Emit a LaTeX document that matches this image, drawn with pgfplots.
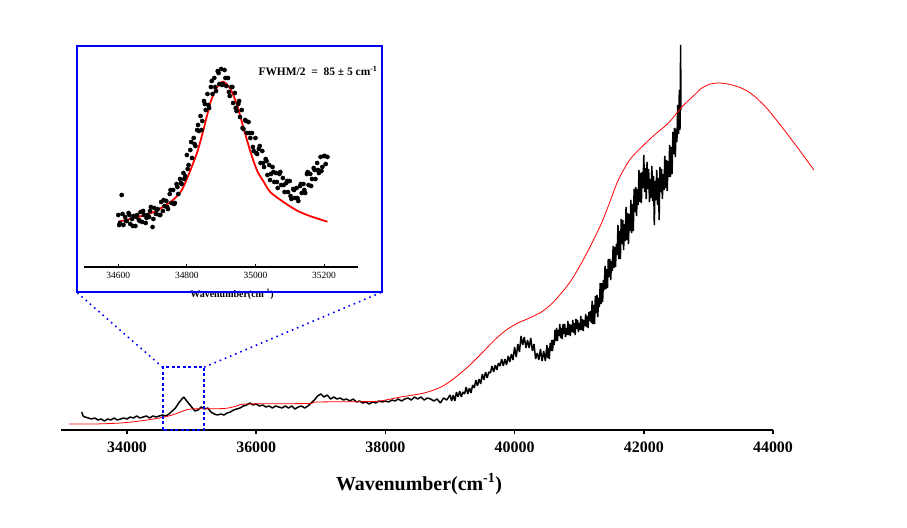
\documentclass[border=0pt]{standalone}
\usepackage{fontspec}
\setmainfont{Liberation Serif}
\usepackage{pgfplots}
\pgfplotsset{compat=1.18}
\begin{document}
\begin{tikzpicture}
\path[use as bounding box] (0bp,0bp) rectangle (907bp,528bp);
% ---------------- main axis ----------------
\begin{axis}[at={(60.8bp,98bp)}, anchor=south west, scale only axis,
  width=712.2bp, height=400bp,
  xmin=32975, xmax=44000, ymin=0, ymax=400,
  axis x line=bottom, axis y line=none, clip=false,
  x axis line style={line width=2.5bp,-},
  xtick={34000,36000,38000,40000,42000,44000},
  scaled ticks=false,
  tick align=outside, major tick length=4bp,
  tick style={line width=1.5bp,black},
  xticklabel style={font=\bfseries\fontsize{16}{18}\selectfont, yshift=-4bp},
  /pgf/number format/assume math mode=true,
  /pgf/number format/set thousands separator={},
]
\addplot[black, line width=1.5pt, line join=bevel] coordinates {
(33300,18) (33320,14) (33350,13) (33400,12) (33450,11) (33500,12) (33550,10) (33600,11)
(33650,9) (33700,11) (33750,10) (33800,12) (33850,10) (33900,11) (33950,12) (34000,11)
(34050,13) (34100,12) (34150,14) (34200,12) (34250,13) (34300,14) (34350,12) (34400,14)
(34450,13) (34500,14) (34550,15) (34600,14) (34650,16) (34700,19) (34750,22) (34800,27)
(34850,31) (34880,33) (34900,31) (34950,27) (35000,23) (35050,19) (35100,20) (35150,23)
(35200,21) (35250,22) (35300,18) (35350,16) (35400,15) (35450,16) (35500,15) (35550,17)
(35600,18) (35650,20) (35700,21) (35750,22) (35800,24) (35850,25) (35900,27) (35950,25)
(36000,26) (36050,24) (36100,25) (36150,23) (36200,24) (36250,22) (36300,24) (36350,23)
(36400,22) (36450,24) (36500,22) (36550,24) (36600,21) (36650,23) (36700,24) (36750,22)
(36800,24) (36850,27) (36900,30) (36950,34) (37000,36) (37050,33) (37100,35) (37150,31)
(37200,33) (37250,31) (37300,32) (37350,30) (37400,31) (37450,29) (37500,31) (37550,28)
(37600,29) (37650,27) (37700,28) (37750,26) (37800,28) (37850,27) (37900,29) (37950,28)
(38000,29) (38050,28) (38100,30) (38150,29) (38200,31) (38250,29) (38300,31) (38350,32)
(38400,30) (38450,33) (38500,31) (38550,33) (38600,30) (38650,32) (38700,31) (38750,29)
(38800,31) (38850,27) (38900,32) (38950,30)
(39000,35) (39025,29) (39050,35) (39075,29) (39100,38) (39125,33) (39150,39) (39175,33)
(39200,38) (39225,36) (39250,43) (39275,36) (39300,42) (39325,37) (39350,45) (39375,42)
(39400,50) (39425,44) (39450,51) (39475,46) (39500,56) (39525,50) (39550,58) (39575,52)
(39600,58) (39625,57) (39650,64) (39675,58) (39700,65) (39725,60) (39750,67) (39775,64)
(39800,71) (39825,64) (39850,71) (39875,65) (39900,74) (39925,68) (39950,76) (39975,70)
(40000,83) (40025,73) (40050,86) (40075,78) (40100,94) (40125,85) (40150,93) (40175,82)
(40200,90) (40225,82) (40250,92) (40275,79) (40300,86) (40325,71) (40350,77) (40375,70)
(40400,81) (40425,69) (40450,79) (40475,69)
(40500,85) (40512.5,72) (40525,82) (40537.5,71) (40550,87) (40562.5,79) (40575,90) (40587.5,79)
(40600,90) (40612.5,85) (40625,100) (40637.5,89) (40650,102) (40662.5,89) (40675,100) (40687.5,94)
(40700,106) (40712.5,92) (40725,102) (40737.5,91) (40750,106) (40762.5,96) (40775,106) (40787.5,93)
(40800,102) (40812.5,95) (40825,109) (40837.5,95) (40850,106) (40862.5,94) (40875,105) (40887.5,98)
(40900,110) (40912.5,97) (40925,107) (40937.5,95) (40950,111) (40962.5,101) (40975,110) (40987.5,98)
(41000,107) (41012.5,100) (41025,114) (41037.5,100) (41050,111) (41062.5,99) (41075,110) (41087.5,104)
(41100,116) (41112.5,103) (41125,114) (41137.5,102) (41150,118) (41162.5,109) (41175,119) (41187.5,107)
(41200,129) (41212.5,106) (41225,125) (41237.5,106) (41250,134) (41262.5,117) (41275,135) (41287.5,113)
(41300,132) (41312.5,123) (41325,147) (41337.5,126) (41350,147) (41362.5,128) (41375,150) (41387.5,140)
(41400,164) (41412.5,141) (41425,161) (41437.5,142) (41450,171) (41462.5,153) (41475,171) (41487.5,150)
(41500,169) (41512.5,159) (41525,184) (41537.5,162) (41550,183) (41562.5,163) (41575,186) (41587.5,175)
(41600,205) (41612.5,171) (41625,199) (41637.5,171) (41650,211) (41662.5,186) (41675,210) (41687.5,180)
(41700,206) (41712.5,189) (41725,223) (41737.5,190) (41750,217) (41762.5,186) (41775,216) (41787.5,199)
(41800,230) (41812.5,197) (41825,226) (41837.5,199) (41850,241) (41862.5,218) (41875,243) (41887.5,214)
(41900,241) (41912.5,225) (41925,260) (41937.5,228) (41950,257) (41962.5,227) (41975,258) (41987.5,242)
(42000,275) (42012.5,238) (42025,262) (42037.5,231) (42050,268) (42062.5,241) (42075,261) (42087.5,228)
(42100,251) (42112.5,232) (42125,264) (42137.5,229) (42150,254) (42162.5,205) (42175,249) (42187.5,230)
(42200,260) (42212.5,225) (42225,252) (42237.5,210) (42250,263) (42262.5,238) (42275,261) (42287.5,231)
(42300,256) (42312.5,240) (42325,274) (42337.5,242) (42350,270) (42362.5,239) (42375,269) (42387.5,253)
(42400,285) (42412.5,253) (42425,283) (42437.5,256) (42450,298) (42462.5,276) (42475,302) (42487.5,273)
(42500,301) (42512.5,288) (42525,325) (42537.5,296) (42550,340) (42560,300) (42570,385) (42575,320)
};
\addplot[red, line width=0.8pt, smooth] coordinates {
(33100,6) (33500,6) (33900,7) (34200,9) (34500,12) (34700,15) (34870,19) (35000,21)
(35500,21.5) (35700,24) (35850,26) (36800,26.5) (36950,28) (37800,28.5) (38000,30)
(38240,33) (38600,37) (38861,43) (39050,51) (39275,63) (39480,76) (39690,90) (39870,100)
(40052,107) (40230,112) (40414,118) (40570,126) (40725,137) (40880,150) (41035,167)
(41190,186) (41346,207) (41480,229) (41605,250) (41780,270) (41967,283) (42180,296)
(42381,307) (42588,323) (42750,333) (42899,342) (43030,346) (43158,347) (43300,346)
(43469,343) (43600,339) (43727,333) (43900,322) (44090,307) (44350,285) (44633,260)
};
\end{axis}
\node[font=\bfseries\fontsize{20}{22}\selectfont] at (419bp,44bp) {Wavenumber(cm\textsuperscript{-1})};
% ---------------- inset ----------------
\begin{axis}[at={(84bp,261bp)}, anchor=south west, scale only axis,
  width=274.3bp, height=215bp,
  xmin=34500, xmax=35300, ymin=0, ymax=215,
  axis x line=bottom, axis y line=none, clip=false,
  x axis line style={line width=1.3bp,-},
  xtick={34600,34800,35000,35200},
  scaled ticks=false,
  tick align=inside, major tick length=3bp,
  tick style={line width=1bp,black},
  xticklabel style={font=\fontsize{9.5}{11}\selectfont, yshift=-2bp},
  /pgf/number format/assume math mode=true,
  /pgf/number format/set thousands separator={},
]
\addplot[only marks, mark=*, mark size=2.1bp, black] coordinates {
(34600,52) (34605,44) (34610,72) (34615,42) (34620,50) (34625,46) (34630,54) (34635,43)
(34640,48) (34645,51) (34650,41) (34655,52) (34660,47) (34665,55) (34670,45) (34675,52)
(34680,44) (34685,52) (34690,50) (34695,60) (34700,40) (34705,59) (34710,53) (34715,58)
(34720,52) (34725,65) (34730,56) (34735,61) (34740,66) (34745,58) (34750,73) (34755,64)
(34760,77) (34765,64) (34770,83) (34775,73) (34780,88) (34785,83) (34790,94) (34795,91)
(34800,112) (34805,102) (34810,117) (34815,109) (34820,129) (34825,121) (34830,137) (34835,136)
(34840,151) (34845,146) (34850,166) (34855,157) (34860,173) (34865,159) (34870,180) (34875,173)
(34880,189) (34885,176) (34890,196) (34895,183) (34900,198) (34905,183) (34910,197) (34915,181)
(34920,189) (34925,171) (34930,180) (34935,164) (34940,174) (34945,156) (34950,163) (34955,150)
(34960,157) (34965,138) (34970,147) (34975,134) (34980,145) (34985,129) (34990,134) (34995,116)
(35000,129) (35005,113) (35010,118) (35015,104) (35020,116) (35025,100) (35030,108) (35035,92)
(35040,102) (35045,93) (35050,100) (35055,85) (35060,94) (35065,79) (35070,93) (35075,82)
(35080,89) (35085,75) (35090,84) (35095,75) (35100,86) (35105,68) (35110,78) (35115,69)
(35120,79) (35125,66) (35130,81) (35135,74) (35140,83) (35145,74) (35150,93) (35155,82)
(35160,93) (35165,88) (35170,99) (35175,88) (35180,104) (35185,94) (35190,110) (35195,100)
(35200,111) (35205,103) (35210,110)
(34602.5,42) (34612.5,53) (34622.5,46) (34632.5,52) (34642.5,41) (34652.5,50) (34662.5,46)
(34672.5,56) (34682.5,49) (34692.5,56) (34702.5,48) (34712.5,57) (34722.5,52) (34732.5,67)
(34742.5,60) (34752.5,77) (34762.5,63) (34772.5,80) (34782.5,84) (34792.5,88) (34802.5,98)
(34812.5,125) (34822.5,123) (34832.5,142) (34842.5,137) (34852.5,163) (34862.5,162) (34872.5,186)
(34882.5,180) (34892.5,194) (34902.5,182) (34912.5,189) (34922.5,175) (34932.5,180) (34942.5,159)
(34952.5,166) (34962.5,139) (34972.5,146) (34982.5,134) (34992.5,120) (35002.5,114) (35012.5,121)
(35022.5,104) (35032.5,106) (35042.5,87) (35052.5,95) (35062.5,85) (35072.5,95) (35082.5,82)
(35092.5,86) (35102.5,71) (35112.5,77) (35122.5,69) (35132.5,83) (35142.5,77) (35152.5,95)
(35162.5,81) (35172.5,97) (35182.5,97) (35192.5,96) (35202.5,111)
};
\addplot[red, line width=1.8pt, smooth] coordinates {
(34600,45.3) (34654,49.7) (34702,54.7) (34751,64.7) (34781,74.7) (34800,88) (34830,114.7)
(34849,138) (34869,164.7) (34888,179.7) (34906,185.3) (34927,178) (34947,161.3) (34966,138)
(34986,114.7) (35005,96.3) (35025,84.7) (35044,74.7) (35083,64.7) (35122,56.3) (35161,50.7)
(35210,45.3)
};
\end{axis}
\node[font=\bfseries\fontsize{10}{12}\selectfont] at (232bp,234bp) {Wavenumber(cm\textsuperscript{-1})};
\node[font=\bfseries\fontsize{11.5}{13}\selectfont, anchor=west] at (255bp,457bp) {FWHM/2\ \ =\ \ 85 ± 5 cm\textsuperscript{-1}};
% frame and zoom indicators
\draw[blue, line width=2bp] (76.7bp,236.3bp) rectangle (381.7bp,482.3bp);
\draw[blue, line width=1.6bp, dash pattern=on 3bp off 2.5bp] (162.7bp,98bp) rectangle (204bp,160.7bp);
\draw[blue, line width=1.6bp, dash pattern=on 1.6bp off 4bp] (77.3bp,235.3bp) -- (162.7bp,160.7bp);
\draw[blue, line width=1.6bp, dash pattern=on 1.6bp off 4bp] (381bp,235.5bp) -- (204bp,160.7bp);
\end{tikzpicture}
\end{document}
